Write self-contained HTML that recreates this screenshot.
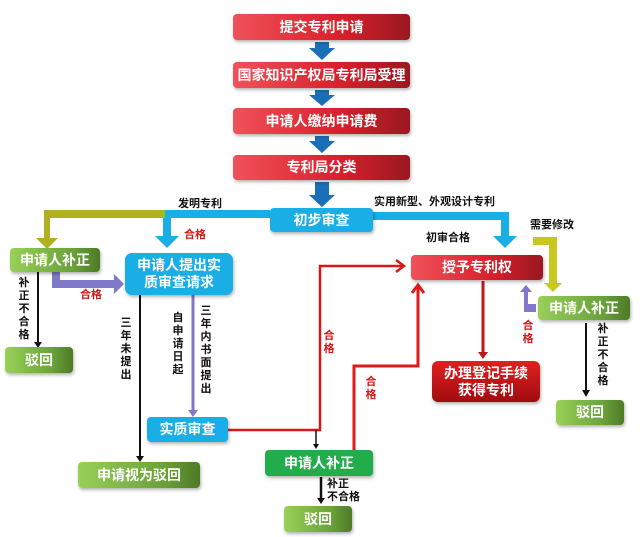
<!DOCTYPE html>
<html><head><meta charset="utf-8"><style>
body{margin:0;width:640px;height:537px;background:#fff;position:relative;overflow:hidden;font-family:"Liberation Sans","Noto Sans CJK SC",sans-serif;font-weight:bold}
.b{position:absolute;color:#fff;display:flex;align-items:center;justify-content:center;text-align:center;border-radius:4px;font-size:14px;line-height:17px;box-shadow:1px 2px 3px rgba(0,0,0,.3)}
.r{background:linear-gradient(90deg,#f0525a,#d8202c 60%,#9a1820)}
.bl{background:#1aaee6}
.g{background:linear-gradient(90deg,#98d058,#6aa23a 70%,#4e7a26)}
.gg{background:#22ac4c}
.dr{background:linear-gradient(#e02020,#a00c10)}
.t{position:absolute;font-size:11px;color:#111;line-height:13px}
.v{width:12px;word-wrap:break-word;text-align:center}
.red{color:#d01818}
</style></head><body>
<svg width="640" height="537" style="position:absolute;left:0;top:0">
<g fill="#1a6fb8">
<path d="M315,42h14v6h6l-13,12l-13,-12h6z"/>
<path d="M315,90h14v5h6l-13,11l-13,-11h6z"/>
<path d="M315,136h14v5h6l-13,12l-13,-12h6z"/>
<path d="M315,182h14v13h6l-13,12l-13,-12h6z"/>
</g>
<path d="M270,210H163v26h-8l12,12l12,-12h-8v-18h99z" fill="#1aaee6"/>
<path d="M373,212h136v24h8l-12,12l-12,-12h8v-16h-128z" fill="#1aaee6"/>
<path d="M165,210H44v28h-8l11,11l11,-11h-8v-20h115z" fill="#b0b020"/>
<path d="M52,272v16h62v6l10,-10l-10,-10v6h-54v-8z" fill="#8078c8"/>
<line x1="38" y1="272" x2="38" y2="345" stroke="#111" stroke-width="2"/>
<path d="M34,342l4,6l4,-6z" fill="#111"/>
<line x1="140" y1="295" x2="140" y2="458" stroke="#111" stroke-width="2"/>
<path d="M136,456l4,6l4,-6z" fill="#111"/>
<line x1="193" y1="295" x2="193" y2="412" stroke="#8078c8" stroke-width="3"/>
<path d="M188,410l5,7l5,-7z" fill="#8078c8"/>
<polyline points="228,430 320,430 320,266 402,266" fill="none" stroke="#d81818" stroke-width="2.5"/>
<path d="M396,260l8,6l-8,6" fill="none" stroke="#d81818" stroke-width="2.5"/>
<line x1="316" y1="430" x2="316" y2="446" stroke="#111" stroke-width="1.5"/>
<path d="M313,444l3,5l3,-5z" fill="#111"/>
<polyline points="354,450 354,366 418,366 418,286" fill="none" stroke="#e01818" stroke-width="3"/>
<path d="M412,293l6,-8l6,8" fill="none" stroke="#e01818" stroke-width="3"/>
<line x1="483" y1="281" x2="483" y2="353" stroke="#c01818" stroke-width="3"/>
<path d="M478,352l5,7l5,-7z" fill="#c01818"/>
<path d="M533,237h24v46h5l-9,9l-9,-9h5v-38h-16z" fill="#c8c820"/>
<path d="M536,312h-12v-20h-4l6,-7l6,7h-4v12h8z" fill="#8078c8"/>
<line x1="586" y1="323" x2="586" y2="392" stroke="#111" stroke-width="2"/>
<path d="M582,390l4,7l4,-7z" fill="#111"/>
<line x1="321" y1="477" x2="321" y2="500" stroke="#111" stroke-width="2.5"/>
<path d="M317,498l4,6l4,-6z" fill="#111"/>
</svg>
<div class="b r" style="left:233px;top:14px;width:177px;height:26px">提交专利申请</div>
<div class="b r" style="left:233px;top:62px;width:177px;height:26px">国家知识产权局专利局受理</div>
<div class="b r" style="left:233px;top:108px;width:177px;height:26px">申请人缴纳申请费</div>
<div class="b r" style="left:233px;top:155px;width:177px;height:25px">专利局分类</div>
<div class="b bl" style="left:270px;top:208px;width:103px;height:24px">初步审查</div>
<div class="b g" style="left:10px;top:248px;width:90px;height:24px">申请人补正</div>
<div class="b g" style="left:5px;top:347px;width:68px;height:26px">驳回</div>
<div class="b bl" style="left:125px;top:253px;width:108px;height:42px;border-radius:7px">申请人提出实<br>质审查请求</div>
<div class="b bl" style="left:147px;top:417px;width:81px;height:25px">实质审查</div>
<div class="b g" style="left:78px;top:462px;width:122px;height:26px">申请视为驳回</div>
<div class="b gg" style="left:265px;top:450px;width:108px;height:26px">申请人补正</div>
<div class="b g" style="left:284px;top:506px;width:68px;height:26px">驳回</div>
<div class="b r" style="left:411px;top:255px;width:132px;height:25px">授予专利权</div>
<div class="b dr" style="left:432px;top:361px;width:108px;height:41px;border-radius:6px">办理登记手续<br>获得专利</div>
<div class="b g" style="left:538px;top:296px;width:92px;height:24px">申请人补正</div>
<div class="b g" style="left:556px;top:400px;width:68px;height:25px">驳回</div>
<div class="t" style="left:178px;top:198px">发明专利</div>
<div class="t" style="left:374px;top:196px">实用新型、外观设计专利</div>
<div class="t" style="left:426px;top:232px">初审合格</div>
<div class="t" style="left:530px;top:219px">需要修改</div>
<div class="t red" style="left:184px;top:229px">合格</div>
<div class="t red" style="left:80px;top:289px">合格</div>
<div class="t v" style="left:18px;top:277px">补正不合格</div>
<div class="t v" style="left:120px;top:317px">三年未提出</div>
<div class="t v" style="left:172px;top:312px">自申请日起</div>
<div class="t v" style="left:200px;top:305px">三年内书面提出</div>
<div class="t v red" style="left:323px;top:330px">合格</div>
<div class="t v red" style="left:365px;top:376px">合格</div>
<div class="t v red" style="left:522px;top:320px">合格</div>
<div class="t v" style="left:597px;top:323px">补正不合格</div>
<div class="t" style="left:327px;top:478px;width:50px;white-space:nowrap">补正<br>不合格</div>
</body></html>
